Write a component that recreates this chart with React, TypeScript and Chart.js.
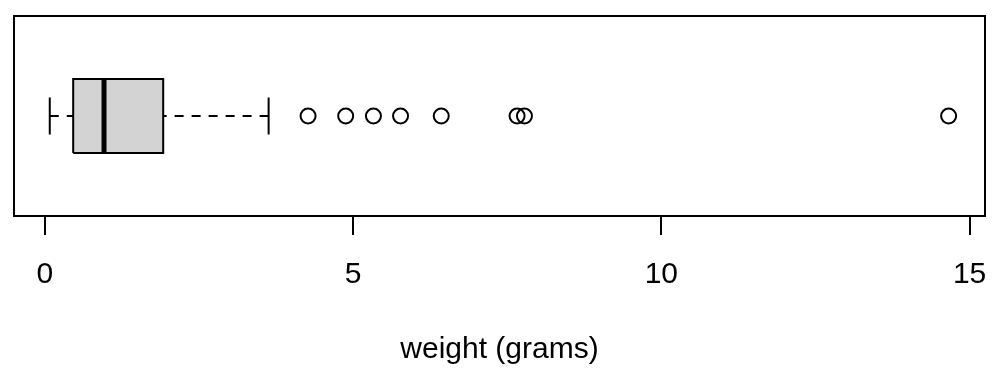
import React, { useEffect, useRef } from 'react';
import { Chart, registerables } from 'chart.js';

Chart.register(...registerables);

// ---- data ----
const categories = ['weight'];
const whiskerLow = 0.08;
const quartile1 = 0.46;
const medianValue = 0.96;
const quartile3 = 1.92;
const whiskerHigh = 3.63;
const outlierValues = [4.27, 4.88, 5.33, 5.77, 6.43, 7.66, 7.78, 14.66];
const tickValues = [0, 5, 10, 15];
const axisTitle = 'weight (grams)';

// axis limits (R extends the data range by 4%)
const X_MIN = -0.5;
const X_MAX = 15.25;
const Y_MIN = 0.46;
const Y_MAX = 1.54;
const BOX_POS = 1;
const BOX_HALF = 0.2;
const CAP_HALF = 0.1;

const FONT = 'Liberation Sans, Arial, Helvetica, sans-serif';

const framePlugin = {
  id: 'frame',
  afterDatasetsDraw(chart: any) {
    const { ctx, chartArea } = chart;
    const { left, top, right, bottom } = chartArea;
    ctx.save();
    ctx.strokeStyle = '#000';
    ctx.lineWidth = 2;
    ctx.strokeRect(left, top, right - left, bottom - top);
    ctx.restore();
  },
};

export default function App() {
  const canvasRef = useRef<HTMLCanvasElement | null>(null);

  useEffect(() => {
    if (!canvasRef.current) return;
    const lo = BOX_POS - BOX_HALF;
    const hi = BOX_POS + BOX_HALF;
    const lineBase = {
      type: 'line' as const,
      showLine: true,
      pointRadius: 0,
      pointHoverRadius: 0,
      borderColor: '#000',
      borderWidth: 2,
      fill: false,
      tension: 0,
    };
    const chart = new Chart(canvasRef.current, {
      type: 'line',
      data: {
        datasets: [
          {
            ...lineBase,
            label: categories[0] + ' box',
            data: [
              { x: quartile1, y: lo },
              { x: quartile3, y: lo },
              { x: quartile3, y: hi },
              { x: quartile1, y: hi },
              { x: quartile1, y: lo },
            ],
            fill: 'shape',
            backgroundColor: '#d3d3d3',
            borderJoinStyle: 'miter',
            order: 4,
          },
          {
            ...lineBase,
            label: 'lower whisker',
            data: [
              { x: whiskerLow, y: BOX_POS },
              { x: quartile1, y: BOX_POS },
            ],
            borderDash: [9, 8],
            order: 3,
          },
          {
            ...lineBase,
            label: 'upper whisker',
            data: [
              { x: whiskerHigh, y: BOX_POS },
              { x: quartile3, y: BOX_POS },
            ],
            borderDash: [9, 8],
            order: 3,
          },
          {
            ...lineBase,
            label: 'lower cap',
            data: [
              { x: whiskerLow, y: BOX_POS - CAP_HALF },
              { x: whiskerLow, y: BOX_POS + CAP_HALF },
            ],
            order: 2,
          },
          {
            ...lineBase,
            label: 'upper cap',
            data: [
              { x: whiskerHigh, y: BOX_POS - CAP_HALF },
              { x: whiskerHigh, y: BOX_POS + CAP_HALF },
            ],
            order: 2,
          },
          {
            ...lineBase,
            label: 'median',
            data: [
              { x: medianValue, y: lo },
              { x: medianValue, y: hi },
            ],
            borderWidth: 5,
            borderCapStyle: 'butt',
            order: 1,
          },
          {
            type: 'line',
            label: 'outliers',
            showLine: false,
            data: outlierValues.map((v) => ({ x: v, y: BOX_POS })),
            pointRadius: 7.5,
            pointHoverRadius: 7.5,
            pointBorderWidth: 2,
            pointBorderColor: '#000',
            pointBackgroundColor: 'rgba(0,0,0,0)',
            borderColor: '#000',
            order: 0,
          },
        ] as any,
      },
      options: {
        animation: false,
        responsive: false,
        maintainAspectRatio: false,
        events: [],
        layout: { padding: { left: 14, right: 15, top: 16, bottom: 0 } },
        plugins: {
          legend: { display: false },
          tooltip: { enabled: false },
          title: { display: false },
        },
        scales: {
          x: {
            type: 'linear',
            position: 'bottom',
            min: X_MIN,
            max: X_MAX,
            afterBuildTicks: (scale: any) => {
              scale.ticks = tickValues.map((v) => ({ value: v }));
            },
            afterFit: (scale: any) => {
              scale.height = 157;
              scale.paddingLeft = 0;
              scale.paddingRight = 0;
            },
            border: { display: false },
            grid: {
              drawOnChartArea: false,
              drawTicks: true,
              tickLength: 19,
              color: '#000',
              lineWidth: 2,
            },
            ticks: {
              autoSkip: false,
              maxRotation: 0,
              minRotation: 0,
              padding: 22,
              color: '#000',
              font: { family: FONT, size: 30 },
              callback: (v: any) => String(v),
            },
            title: {
              display: true,
              text: axisTitle,
              color: '#000',
              font: { family: FONT, size: 30 },
              padding: { top: 0, bottom: 5 },
            },
          },
          y: {
            type: 'linear',
            display: false,
            min: Y_MIN,
            max: Y_MAX,
          },
        },
      },
      plugins: [framePlugin],
    } as any);
    return () => chart.destroy();
  }, []);

  return (
    <div style={{ position: 'absolute', left: 0, top: 0, width: 1000, height: 373, background: '#fff' }}>
      <canvas ref={canvasRef} width={1000} height={373} style={{ display: 'block' }} />
    </div>
  );
}
